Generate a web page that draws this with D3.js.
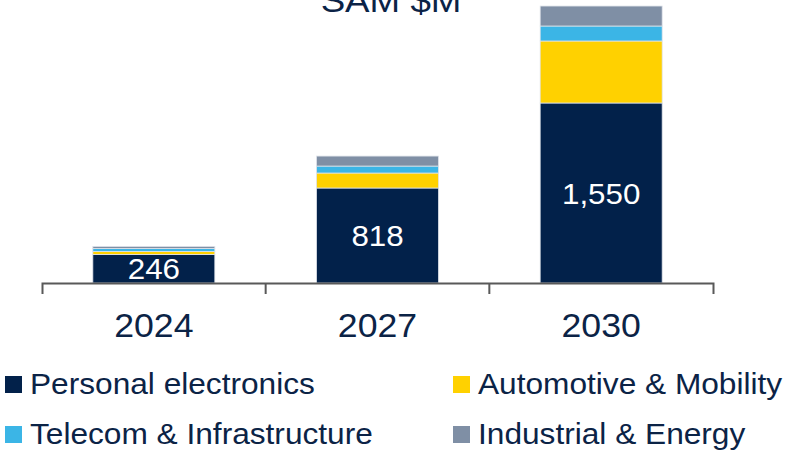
<!DOCTYPE html>
<meta charset="utf-8">
<style>
body { margin: 0; background: #fff; }
text { font-family: "Liberation Sans", Arial, sans-serif; }
.axis .domain { stroke: #595959; stroke-width: 2; fill: none; }
</style>
<svg width="790" height="452"></svg>
<script src="https://cdn.jsdelivr.net/npm/d3@7"></script>
<script>

// SAM $M by year, stacked by segment
var years = ["2024", "2027", "2030"];
var personal = [246, 818, 1550];
var automotive = [26, 129, 534];
var telecom = [26, 60, 129];
var industrial = [17, 86, 172];

var seriesNames = ["Personal electronics", "Automotive & Mobility", "Telecom & Infrastructure", "Industrial & Energy"];
var seriesColors = ["#02214a", "#ffd100", "#3bb5e6", "#7f8fa5"];
var textColor = "#0b2346";
var stretch = 1.08;

var svg = d3.select("svg");

var table = years.map(function(y, i) {
  return {year: y, p: personal[i], a: automotive[i], t: telecom[i], ind: industrial[i]};
});
var keys = ["p", "a", "t", "ind"];
var stack = d3.stack().keys(keys)(table);

var x = d3.scaleBand().domain(years).range([42, 713]).paddingInner(0.4546).paddingOuter(0.2273);
var y = d3.scaleLinear().domain([0, 1550]).range([283, 103]);

var g = svg.append("g");

// bars
g.selectAll("g.layer")
  .data(stack)
  .enter().append("g")
  .attr("class", "layer")
  .attr("fill", function(d, i) { return seriesColors[i]; })
  .selectAll("rect")
  .data(function(d) { return d; })
  .enter().append("rect")
  .attr("x", function(d) { return x(d.data.year); })
  .attr("width", x.bandwidth())
  .attr("y", function(d) { return y(d[1]); })
  .attr("height", function(d) { return y(d[0]) - y(d[1]); })
  .attr("stroke", "#dfe3ea")
  .attr("stroke-width", 0.8);

// value labels in the personal segment
g.selectAll("text.val")
  .data(table)
  .enter().append("text")
  .attr("class", "val")
  .attr("text-anchor", "middle")
  .attr("fill", "#fff")
  .attr("font-size", 29)
  .attr("transform", function(d) {
    var cy = (y(0) + y(d.p)) / 2 + 10.5;
    return "translate(" + (x(d.year) + x.bandwidth() / 2) + "," + cy + ") scale(" + stretch + ",1)";
  })
  .text(function(d) { return d3.format(",")(d.p); });

// axis
var xAxis = d3.axisBottom(x).tickSizeInner(0).tickSizeOuter(11).tickPadding(31);
var ax = svg.append("g")
  .attr("class", "axis")
  .attr("transform", "translate(0,283)")
  .call(xAxis);
ax.selectAll(".tick line").remove();
ax.selectAll(".tick text")
  .attr("font-size", 33)
  .attr("fill", textColor)
  .attr("font-family", "Liberation Sans, Arial, sans-serif")
  .attr("transform", "scale(" + stretch + ",1)");

// inner boundary ticks between categories
var step = x.step();
ax.selectAll("line.sep")
  .data(years.slice(1))
  .enter().append("line")
  .attr("class", "sep")
  .attr("x1", function(d) { return x(d) - step * x.paddingInner() / 2; })
  .attr("x2", function(d) { return x(d) - step * x.paddingInner() / 2; })
  .attr("y1", 0)
  .attr("y2", 11)
  .attr("stroke", "#595959")
  .attr("stroke-width", 2);

// title (cut at the top)
svg.append("text")
  .attr("text-anchor", "middle")
  .attr("fill", textColor)
  .attr("font-size", 34)
  .attr("transform", "translate(391,12) scale(" + stretch + ",1)")
  .text("SAM $M");

// legend
var legPos = [[5, 376], [453, 376], [5, 426], [453, 426]];
var leg = svg.selectAll("g.leg")
  .data(seriesNames)
  .enter().append("g")
  .attr("class", "leg")
  .attr("transform", function(d, i) { return "translate(" + legPos[i][0] + "," + legPos[i][1] + ")"; });
leg.append("rect")
  .attr("width", 17)
  .attr("height", 17)
  .attr("fill", function(d, i) { return seriesColors[i]; });
leg.append("text")
  .attr("fill", textColor)
  .attr("font-size", 29.3)
  .attr("transform", "translate(25,17.5) scale(" + stretch + ",1)")
  .text(function(d) { return d; });

</script>
